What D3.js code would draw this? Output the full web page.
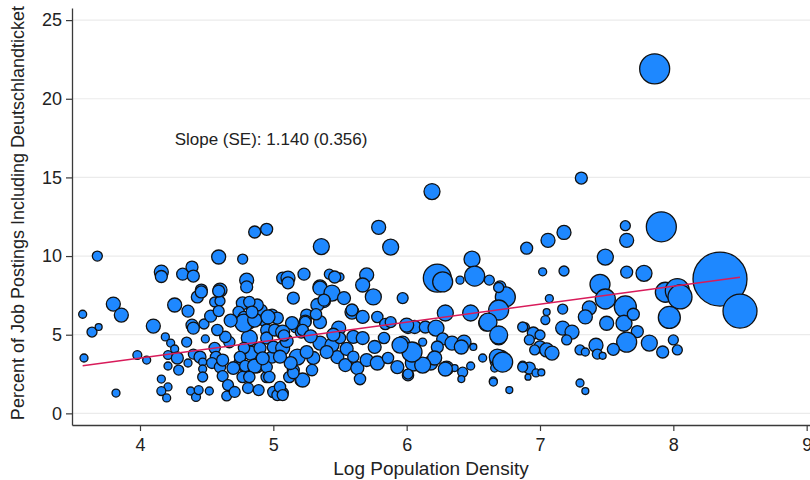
<!DOCTYPE html>
<html>
<head>
<meta charset="utf-8">
<script src="https://cdn.jsdelivr.net/npm/d3@7"></script>
<style>
  body { margin: 0; background: #fff; }
  svg { display: block; font-family: "Liberation Sans", Arial, sans-serif; }
</style>
</head>
<body>
<div id="chart"></div>
<script>
// log population density (x), share of postings mentioning the Deutschlandticket (y), weight (bubble size)
var logDensity = [
  7.86, 7.31, 6.19, 7.91, 7.64, 7.65, 7.49, 7.18, 7.06, 6.90,
  7.02, 7.18, 7.65, 7.78, 8.35, 8.50, 7.45, 7.94, 8.03, 8.05,
  7.97, 7.64, 7.49, 7.37, 7.34, 7.50, 7.63, 7.70, 7.73, 7.65,
  7.82, 7.92, 8.00, 8.03, 7.42, 7.55, 7.30, 7.34, 7.43, 7.47,
  7.30, 7.34, 7.17, 7.07, 7.05, 7.04, 7.17, 7.24, 7.20, 6.89,
  6.95, 7.00, 6.92, 7.00, 7.05, 7.09, 6.96, 6.87, 6.92, 6.97,
  7.01, 6.91, 6.77, 5.79, 5.88, 6.49, 6.23, 6.27, 6.40, 6.51,
  6.62, 6.70, 5.70, 5.67, 5.50, 3.68, 4.16, 4.16, 4.32, 4.39,
  4.40, 4.59, 4.77, 4.86, 4.95, 5.36, 4.80, 4.80, 5.07, 5.11,
  5.11, 5.23, 5.42, 5.46, 5.35, 4.46, 4.60, 3.57, 3.64, 3.69,
  3.80, 3.86, 3.58, 3.82, 3.98, 4.05, 4.10, 4.26, 4.19, 4.23,
  4.26, 4.21, 4.28, 4.21, 4.29, 4.16, 4.21, 4.16, 4.20, 4.36,
  4.35, 4.36, 4.39, 4.43, 4.46, 4.48, 4.49, 4.40, 4.45, 4.47,
  4.47, 4.47, 4.38, 4.42, 4.44, 4.52, 4.53, 4.56, 4.60, 4.59,
  4.59, 4.56, 4.57, 4.54, 4.60, 4.62, 4.62, 4.66, 4.65, 4.71,
  4.67, 4.64, 4.77, 4.74, 4.78, 4.82, 4.82, 4.83, 4.75, 4.80,
  4.77, 4.81, 4.89, 4.90, 4.88, 4.91, 4.88, 4.93, 4.95, 5.00,
  5.07, 4.95, 4.99, 5.03, 5.15, 5.17, 5.21, 5.18, 5.21, 5.12,
  5.15, 5.25, 5.24, 4.40, 4.70, 4.78, 4.78, 4.86, 4.82, 4.84,
  4.75, 4.79, 4.86, 4.82, 4.96, 4.95, 4.99, 5.00, 4.95, 4.97,
  5.03, 5.01, 5.35, 5.44, 5.38, 5.33, 5.53, 5.97, 5.59, 5.67,
  5.78, 5.84, 6.01, 6.06, 5.14, 5.24, 5.35, 5.07, 5.49, 5.22,
  5.07, 5.35, 5.44, 5.50, 5.60, 5.67, 5.76, 5.83, 5.97, 6.04,
  5.30, 5.48, 5.54, 5.63, 5.70, 5.78, 5.86, 5.93, 6.01, 5.22,
  5.15, 5.29, 5.65, 5.05, 5.07, 6.74, 6.69, 6.29, 6.48, 6.60,
  6.69, 6.70, 6.57, 6.66, 6.65, 6.14, 6.22, 6.12, 6.27, 6.23,
  6.34, 6.43, 6.42, 6.50, 6.05, 6.18, 6.30, 6.36, 6.42, 6.41,
  6.48, 6.69, 5.38, 5.59, 5.88, 6.00, 6.61, 6.69, 6.68, 6.72,
  6.87, 6.87, 6.29, 6.21, 6.12, 6.01, 6.04, 5.95, 6.41, 6.65,
  5.75, 5.10, 5.28, 5.13, 5.40, 5.55, 5.25, 5.60, 5.45, 5.05,
  4.58, 4.68, 4.92, 5.08, 5.32
];
var jobShare = [
  21.9, 14.96, 14.1, 11.86, 11.93, 11.0, 9.93, 11.5, 11.0, 10.5,
  9.0, 9.05, 8.98, 8.9, 8.54, 6.5, 8.2, 7.7, 7.8, 7.4,
  6.1, 6.77, 7.27, 6.7, 6.13, 5.73, 5.73, 6.3, 5.2, 4.53,
  4.47, 3.9, 4.67, 4.03, 4.33, 4.07, 4.03, 3.9, 3.77, 3.66,
  1.93, 1.42, 6.63, 7.3, 6.44, 5.93, 5.42, 5.17, 4.67, 5.49,
  5.11, 4.98, 4.67, 4.23, 4.03, 3.83, 4.03, 3.07, 2.88, 2.57,
  2.6, 2.3, 1.48, 11.83, 10.57, 9.8, 8.6, 8.36, 8.47, 8.73,
  8.47, 8.04, 8.8, 8.16, 8.67, 10.0, 8.98, 8.7, 8.85, 9.3,
  8.73, 9.94, 9.81, 11.53, 11.7, 10.6, 8.47, 8.04, 8.6, 8.6,
  8.3, 8.85, 8.85, 8.67, 8.04, 7.84, 7.84, 6.3, 5.17, 5.49,
  6.95, 6.25, 3.52, 1.29, 3.71, 3.39, 5.55, 6.89, 4.86, 4.47,
  4.09, 3.71, 3.52, 3.01, 2.75, 2.18, 1.68, 1.42, 0.98, 6.5,
  4.53, 3.2, 5.61, 7.4, 7.72, 5.68, 4.73, 3.77, 3.58, 3.26,
  2.82, 2.31, 1.42, 1.04, 1.48, 1.42, 6.18, 7.08, 7.14, 7.78,
  6.5, 4.15, 3.58, 3.2, 2.94, 3.39, 2.37, 1.8, 1.1, 1.36,
  4.53, 4.86, 7.0, 6.44, 6.13, 5.74, 4.79, 3.83, 3.26, 2.75,
  2.31, 1.61, 1.48, 4.15, 2.94, 6.57, 6.89, 5.93, 5.3, 1.36,
  1.29, 2.31, 6.25, 6.06, 7.33, 5.5, 5.17, 3.58, 2.12, 2.31,
  2.75, 6.25, 5.87, 5.42, 2.88, 5.74, 4.15, 5.93, 7.08, 6.44,
  3.58, 3.01, 3.01, 2.31, 6.13, 4.79, 3.58, 4.22, 2.94, 2.31,
  1.16, 5.3, 7.96, 7.65, 7.14, 6.89, 7.33, 7.33, 6.44, 6.13,
  6.13, 5.68, 5.49, 5.49, 5.74, 5.8, 5.8, 5.17, 5.42, 5.3,
  4.15, 4.47, 4.34, 4.79, 4.86, 4.79, 4.22, 4.79, 4.47, 4.03,
  3.52, 3.58, 3.07, 2.88, 3.39, 3.2, 3.52, 2.94, 2.43, 2.12,
  2.56, 2.75, 2.18, 1.68, 1.16, 7.4, 6.57, 6.38, 6.38, 5.74,
  4.86, 3.39, 3.52, 2.88, 2.06, 5.49, 5.42, 4.53, 4.73, 4.22,
  4.47, 4.53, 4.15, 4.22, 3.2, 3.2, 2.88, 2.88, 2.62, 2.18,
  3.01, 8.0, 7.2, 6.57, 5.8, 5.61, 5.8, 4.98, 3.58, 3.26,
  2.94, 5.49, 2.82, 3.52, 3.07, 2.5, 3.9, 4.34, 4.22, 1.99,
  7.4, 4.6, 4.9, 3.2, 3.9, 4.1, 3.9, 3.6, 5.0, 3.6,
  5.3, 5.9, 3.5, 4.95, 6.3
];
var weight = [
  225, 36, 64, 225, 25, 49, 64, 49, 49, 36,
  16, 25, 36, 64, 729, 289, 100, 100, 144, 144,
  121, 121, 100, 49, 49, 49, 64, 36, 36, 100,
  64, 36, 25, 25, 49, 36, 25, 16, 25, 12,
  16, 12, 25, 16, 12, 20, 49, 49, 25, 16,
  36, 25, 25, 36, 49, 49, 25, 16, 36, 16,
  12, 9, 12, 49, 64, 64, 196, 100, 16, 100,
  25, 36, 49, 49, 16, 25, 49, 36, 36, 36,
  36, 49, 25, 36, 36, 64, 49, 36, 36, 49,
  36, 36, 25, 36, 49, 36, 49, 16, 25, 12,
  49, 49, 16, 16, 20, 16, 49, 49, 16, 16,
  16, 20, 36, 16, 25, 16, 16, 20, 16, 36,
  25, 16, 36, 36, 36, 25, 16, 25, 36, 16,
  16, 25, 16, 20, 20, 16, 36, 25, 25, 36,
  30, 32, 32, 30, 32, 36, 30, 30, 24, 30,
  32, 32, 40, 32, 32, 36, 64, 49, 32, 36,
  32, 30, 30, 36, 32, 32, 36, 36, 36, 32,
  32, 32, 36, 36, 36, 36, 36, 64, 40, 32,
  36, 36, 36, 36, 40, 81, 32, 49, 32, 36,
  32, 32, 49, 32, 49, 36, 36, 36, 32, 32,
  30, 36, 49, 64, 42, 42, 42, 30, 49, 42,
  32, 32, 42, 42, 42, 32, 42, 49, 49, 32,
  49, 49, 49, 32, 42, 42, 42, 32, 49, 49,
  42, 42, 42, 42, 42, 49, 32, 42, 32, 49,
  32, 32, 32, 32, 30, 100, 100, 64, 64, 64,
  64, 100, 16, 16, 16, 36, 64, 16, 36, 36,
  49, 49, 16, 12, 64, 49, 49, 12, 25, 12,
  16, 25, 36, 36, 30, 49, 81, 81, 64, 100,
  25, 25, 49, 49, 64, 25, 100, 64, 49, 16,
  64, 42, 42, 42, 42, 42, 42, 32, 42, 42,
  32, 42, 42, 32, 32
];
var xTicks = [4, 5, 6, 7, 8, 9];
var yTicks = [0, 5, 10, 15, 20, 25];
// fitted line (weighted OLS), as reported in the note
var slope = 1.140, slopeSE = 0.356, intercept = -1.04;

var width = 810, height = 480;
var margin = { top: 8, right: 0, bottom: 55, left: 72 };

var data = logDensity.map(function (d, i) {
    return { x: d, y: jobShare[i], w: weight[i] };
});

var x = d3.scaleLinear().domain([3.49, 9.025]).range([margin.left, width - margin.right]);
var y = d3.scaleLinear().domain([-0.74, 25.77]).range([height - margin.bottom, margin.top]);
var r = d3.scaleSqrt().domain([0, d3.max(weight)]).range([0, 27]);

var svg = d3.select("#chart").append("svg")
    .attr("width", width)
    .attr("height", height);

// gridlines
svg.append("g")
    .selectAll("line")
    .data(yTicks).enter()
    .append("line")
    .attr("x1", margin.left).attr("x2", width - margin.right)
    .attr("y1", function (d) { return y(d); })
    .attr("y2", function (d) { return y(d); })
    .style("stroke", "#ebebeb")
    .style("stroke-width", 1.2);

// y axis
var yAxis = svg.append("g")
    .attr("transform", "translate(" + margin.left + ",0)")
    .call(d3.axisLeft(y).tickValues(yTicks).tickFormat(d3.format("d"))
        .tickSize(6).tickPadding(4).tickSizeOuter(0));
// x axis
var xAxis = svg.append("g")
    .attr("transform", "translate(0," + (height - margin.bottom) + ")")
    .call(d3.axisBottom(x).tickValues(xTicks).tickFormat(d3.format("d"))
        .tickSize(6).tickPadding(7).tickSizeOuter(0));

[xAxis, yAxis].forEach(function (a) {
    a.select(".domain").style("stroke", "#3a3a3a").style("stroke-width", 1.3);
    a.selectAll(".tick line").style("stroke", "#3a3a3a").style("stroke-width", 1.2);
    a.selectAll(".tick text")
        .style("font-family", "Liberation Sans, Arial, sans-serif")
        .style("font-size", "18px")
        .style("fill", "#222");
});

// bubbles
svg.append("g")
    .selectAll("circle")
    .data(data).enter()
    .append("circle")
    .attr("cx", function (d) { return x(d.x); })
    .attr("cy", function (d) { return y(d.y); })
    .attr("r", function (d) { return r(d.w); })
    .style("fill", "#1e88ff")
    .style("stroke", "#111")
    .style("stroke-width", 1.3);

// regression line over the data range
var xExt = d3.extent(logDensity);
svg.append("line")
    .attr("x1", x(xExt[0])).attr("y1", y(intercept + slope * xExt[0]))
    .attr("x2", x(xExt[1])).attr("y2", y(intercept + slope * xExt[1]))
    .style("stroke", "#d81b5a")
    .style("stroke-width", 1.5);

// note
svg.append("text")
    .attr("x", x(4.26))
    .attr("y", y(17.05))
    .style("font-size", "17px")
    .style("fill", "#222")
    .text("Slope (SE): " + slope.toFixed(3) + " (" + slopeSE.toFixed(3) + ")");

// axis titles
svg.append("text")
    .attr("x", 431)
    .attr("y", 475)
    .attr("text-anchor", "middle")
    .style("font-size", "19px")
    .style("fill", "#222")
    .text("Log Population Density");

svg.append("text")
    .attr("transform", "translate(24,213) rotate(-90)")
    .attr("text-anchor", "middle")
    .style("font-size", "18px")
    .style("fill", "#222")
    .text("Percent of Job Postings Including Deutschlandticket");
</script>
</body>
</html>
